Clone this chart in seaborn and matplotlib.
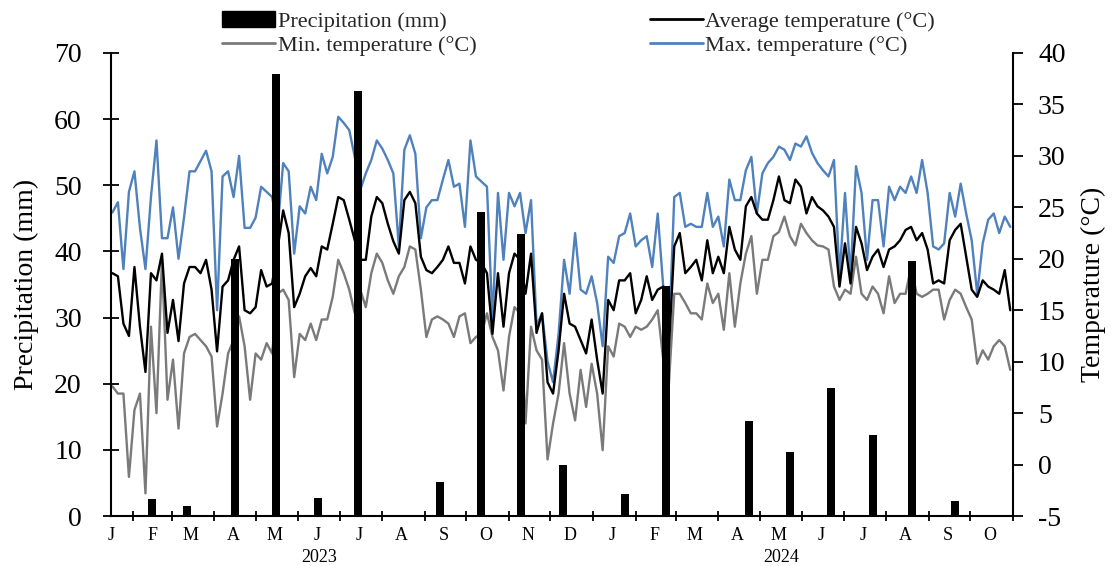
import numpy as np
import pandas as pd
import matplotlib
matplotlib.use("Agg")
import matplotlib.pyplot as plt
import matplotlib.dates as mdates
import matplotlib.transforms as mtransforms
from matplotlib.lines import Line2D
from matplotlib.patches import Patch
import seaborn as sns

# ---------------- data ----------------
start_date = "2023-01-17"   # first temperature sample
step_days = 4               # sampling step of the temperature series

t_max = [24.5, 25.5, 19, 26.5, 28.5, 23, 19, 26, 31.5, 22, 22, 25, 20, 24, 28.5, 28.5, 29.5,
         30.5, 28.5, 15, 28, 28.5, 26, 30, 23, 23, 24, 27, 26.5, 26, 23, 29.3, 28.5, 20.5,
         25.1, 24.4, 27, 25.7, 30.2, 28.3, 29.9, 33.8, 33.2, 32.5, 29.9, 26.7, 28.3, 29.6,
         31.5, 30.7, 29.6, 28.3, 21.2, 30.6, 32, 30.2, 22, 25, 25.7, 25.7, 27.7, 29.6, 27,
         27.3, 23.1, 31.5, 28,
         27.5, 27, 14, 26.4, 19.9, 26.4, 25.1, 26.4, 22.5, 25.7, 13.5, 14.7, 10, 8, 12.7,
         19.9, 16.6, 22.5, 17, 16.6, 18.3, 15.7, 11.5, 20.2, 19.6, 22.2, 22.5, 24.4, 21.2,
         21.8, 22.2, 19.2, 24.4, 17.3,
         11.8, 26, 26.4, 23.1, 23.4, 23.1, 23.1, 26.4, 23.1, 24.1, 21.2, 27.7, 25.7, 25.7,
         28.6, 29.9, 24.4, 28.3, 29.3, 29.9, 30.9, 30.6, 29.6, 31.2, 30.9, 31.9, 30.3, 29.3,
         28.6, 28, 29.6, 18.3, 26.4,
         18.3, 29, 26.4, 19.9, 25.7, 25.7, 21.2, 27, 25.7, 27, 26.4, 28, 26.4, 29.6, 26.4,
         21.2, 20.9, 21.5, 26.4, 24.1, 27.3, 24.4, 21.8, 16.6, 21.5, 23.8, 24.4, 22.5, 24.1, 23.1]

t_avg = [18.6, 18.3, 13.7, 12.5, 19.2, 13.4, 9, 18.6, 17.9, 20.5, 12.8, 16, 12, 17.6, 19.2,
         19.2, 18.6, 19.9, 17, 11, 17.3, 17.9, 19.9, 21.2, 15, 14.7, 15.3, 18.9, 17.3, 17.6,
         21, 24.7, 22.5, 15.3,
         16.6, 18.3, 19.1, 18.3, 21.2, 20.9, 23.4, 26, 25.7, 23.8, 21.8, 19.9, 19.9, 24.1, 26,
         25.4, 23.4, 21.7, 20.5, 25.7, 26.5, 25.4, 20.2, 18.9, 18.6, 19.2, 19.9, 21.2, 19.6,
         19.6, 17.6, 21.2, 19.9,
         19.6, 18.6, 12.7, 18.6, 13.4, 18.6, 20.5, 19.9, 16.6, 20.5, 12.8, 14.7, 8, 6.9, 11.1,
         16.6, 13.7, 13.4, 12.1, 10.8, 14.1, 10.2, 6.9, 16, 15, 17.9, 17.9, 18.6, 14.7, 16,
         18.3, 16, 17, 17.3,
         11.1, 21.2, 22.5, 18.6, 19.2, 19.9, 17.9, 21.8, 18.6, 20.2, 18.6, 23.1, 20.9, 19.9,
         25.1, 26, 24.4, 23.8, 23.8, 25.7, 28, 25.7, 25.4, 27.7, 27, 24.4, 26, 25.1, 24.7,
         24.1, 23.1, 17.3, 21.5,
         17.6, 23.1, 21.5, 18.9, 20.2, 20.9, 19.2, 20.9, 21.2, 21.8, 22.8, 23.1, 21.8, 22.5,
         20.9, 17.6, 17.9, 17.6, 21.8, 22.8, 23.4, 20.2, 17, 16.3, 17.9, 17.3, 17, 16.6, 18.9, 15]

t_min = [7.6, 6.9, 6.9, -1.2, 5.3, 6.9, -2.8, 13.4, 5, 19.9, 6.3, 10.2, 3.5, 10.8, 12.4,
         12.7, 12.1, 11.5, 10.5, 3.7, 6.9, 10.8, 12.1, 14.4, 11.5, 6.3, 10.8, 10.2, 11.8, 10.8,
         16.6, 17, 16, 8.5,
         12.7, 12.1, 13.7, 12.1, 14.1, 14.1, 16.3, 19.9, 18.6, 17, 14.7, 17, 15.3, 18.6, 20.5,
         19.6, 17.9, 16.6, 18.3, 19.2, 21.2, 20.9, 17, 12.4, 14.1, 14.4, 14.1, 13.7, 12.4,
         14.4, 14.7, 11.8, 12.4,
         12.7, 14.7, 12.4, 11.1, 7.2, 12.4, 15.3, 14.7, 4, 13.4, 11.1, 10.2, 0.5, 4, 6.9,
         11.8, 6.9, 4.3, 9.2, 5.6, 9.8, 6.9, 1.4, 11.5, 10.5, 13.7, 13.4, 12.4, 13.4, 13.1,
         13.4, 14.1, 15, 10.2,
         7.6, 16.6, 16.6, 15.7, 14.7, 14.7, 14.1, 17.6, 15.7, 16.6, 13.1, 18.6, 13.4, 17.6,
         20.5, 22.2, 16.6, 19.9, 19.9, 22.2, 22.6, 24.1, 22.2, 21.3, 23.4, 22.5, 21.8, 21.3,
         21.2, 20.9, 17.3, 16, 17,
         16.6, 20.2, 16.6, 16, 17.3, 16.6, 14.7, 18.3, 15.7, 16.6, 16.6, 19.2, 16.6, 16.3,
         16.6, 17, 17, 14.1, 16, 17, 16.6, 15.3, 14.1, 9.8, 11.1, 10.2, 11.5, 12.1, 11.5, 9.2]

precip_dates = ["2023-02-15", "2023-03-12", "2023-04-16", "2023-05-16", "2023-06-15",
                "2023-07-14", "2023-09-12", "2023-10-12", "2023-11-10", "2023-12-10",
                "2024-01-24", "2024-02-23", "2024-04-23", "2024-05-23", "2024-06-22",
                "2024-07-22", "2024-08-20", "2024-09-20"]
precip_mm = [2.6, 1.5, 38.8, 66.8, 2.8, 64.3, 5.2, 45.9, 42.6, 7.7,
             3.4, 34.7, 14.3, 9.7, 19.3, 12.3, 38.5, 2.3]

month_letters = ["J", "F", "M", "A", "M", "J", "J", "A", "S", "O", "N", "D",
                 "J", "F", "M", "A", "M", "J", "J", "A", "S", "O"]
year_labels = ["2023", "2024"]
year_label_dates = ["2023-06-16", "2024-05-17"]

lbl_avg = "Average temperature (°C)"
lbl_min = "Min. temperature (°C)"
lbl_max = "Max. temperature (°C)"
lbl_pre = "Precipitation (mm)"

# ---------------- style ----------------
sns.set_theme(style="white")
plt.rcParams["font.family"] = ["Liberation Serif", "DejaVu Serif"]
plt.rcParams["axes.unicode_minus"] = False

colors = {lbl_avg: "#000000", lbl_min: "#7a7a7a", lbl_max: "#4f81bd"}

dates = pd.date_range(start_date, periods=len(t_max), freq=f"{step_days}D")
df = pd.DataFrame({"date": dates, lbl_avg: t_avg, lbl_min: t_min, lbl_max: t_max})
long = df.melt(id_vars="date", var_name="series", value_name="temp")

fig = plt.figure(figsize=(11.17, 5.66), dpi=100)
ax_p = fig.add_axes([0.0994, 0.0883, 0.8075, 0.8181])
ax_t = ax_p.twinx()
ax_p.set_zorder(ax_t.get_zorder() + 1)
ax_p.patch.set_visible(False)

sns.lineplot(data=long, x="date", y="temp", hue="series",
             hue_order=[lbl_min, lbl_max, lbl_avg], palette=colors,
             linewidth=1.7, legend=False, ax=ax_t)

ax_p.bar(pd.to_datetime(precip_dates), precip_mm, width=5.8, color="black",
         edgecolor="none", zorder=3)

# ---------------- axes ----------------
x_left = pd.Timestamp("2023-01-16")
x_right = pd.Timestamp("2024-11-01")
ax_p.set_xlim(x_left, x_right)
ax_t.set_xlim(x_left, x_right)
ax_p.set_ylim(0, 70)
ax_t.set_ylim(-5, 40)
ax_p.set_yticks(range(0, 71, 10))
ax_t.set_yticks(range(-5, 41, 5))

month_starts = pd.date_range("2023-02-01", "2024-11-01", freq="MS")
ax_p.xaxis.set_major_locator(matplotlib.ticker.FixedLocator(mdates.date2num(month_starts)))
ax_p.xaxis.set_major_formatter(matplotlib.ticker.NullFormatter())
mid_months = [pd.Timestamp("2023-01-16")] + list(
    pd.date_range("2023-02-01", periods=len(month_letters) - 1, freq="MS") + pd.Timedelta(days=14))
ax_p.xaxis.set_minor_locator(matplotlib.ticker.FixedLocator(mdates.date2num(mid_months)))
ax_p.xaxis.set_minor_formatter(matplotlib.ticker.FixedFormatter(month_letters))
ax_t.xaxis.set_visible(False)

ax_p.tick_params(axis="x", which="major", direction="inout", length=7, width=1.3,
                 color="black", bottom=True)
ax_p.tick_params(axis="x", which="minor", length=0, pad=8, labelsize=13,
                 labelcolor="black", bottom=True)
ax_p.tick_params(axis="y", direction="inout", length=12, width=1.3, color="black",
                 labelsize=20, labelcolor="black", pad=15, left=True)
ax_t.tick_params(axis="y", direction="out", length=7, width=1.3, color="black",
                 labelsize=20, labelcolor="black", pad=11, right=True)

ax_p.set_xlabel("")
ax_t.set_xlabel("")
ax_p.set_ylabel(lbl_pre, fontsize=20, color="black", labelpad=11)
ax_t.set_ylabel("Temperature (°C)", fontsize=20, color="black", labelpad=11)

for sp in ["top", "right"]:
    ax_p.spines[sp].set_visible(False)
for sp in ["top", "left", "bottom"]:
    ax_t.spines[sp].set_visible(False)
for sp in ["left", "bottom"]:
    ax_p.spines[sp].set_color("black")
    ax_p.spines[sp].set_linewidth(1.5)
ax_t.spines["right"].set_color("black")
ax_t.spines["right"].set_linewidth(1.5)
ax_p.grid(False)
ax_t.grid(False)

trans = mtransforms.blended_transform_factory(ax_p.transData, ax_p.transAxes)
for lab, d in zip(year_labels, year_label_dates):
    ax_p.text(pd.Timestamp(d), -0.09, lab, transform=trans, ha="center", va="center",
              fontsize=13, color="black")

handles = [Patch(facecolor="black", edgecolor="black"),
           Line2D([], [], color=colors[lbl_min], lw=2),
           Line2D([], [], color=colors[lbl_avg], lw=2),
           Line2D([], [], color=colors[lbl_max], lw=2)]
labels = [lbl_pre, lbl_min, lbl_avg, lbl_max]
fig.legend(handles, labels, ncol=2, loc="center", bbox_to_anchor=(0.518, 0.941),
           frameon=False, fontsize=16, columnspacing=7.8, handlelength=2.4,
           handletextpad=0.1, labelspacing=0.15, borderpad=0)

fig.savefig("out.png", dpi=100)
